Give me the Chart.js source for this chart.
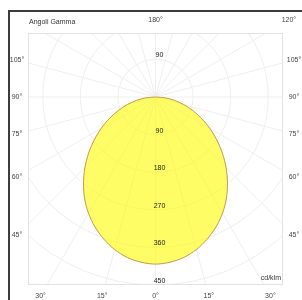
<!DOCTYPE html>
<html>
<head>
<meta charset="utf-8">
<script src="https://cdn.jsdelivr.net/npm/chart.js@4"></script>
<style>
html, body { margin: 0; padding: 0; background: #fff; }
canvas { display: block; }
</style>
</head>
<body>
<canvas id="myChart" width="302" height="300"></canvas>
<script>
// gamma angles (deg) and luminous intensity (cd/klm), symmetric curve
const gammaDeg = [0, 5, 10, 15, 20, 25, 30, 35, 40, 45, 50, 55, 60, 65, 70, 75, 80, 85, 90];
const cdKlm = [400, 397, 390, 378, 362, 343, 321, 296, 268, 239, 209, 179, 150, 122, 95, 70, 46, 23, 0];

const ringLabelsDown = [90, 180, 270, 360, 450];
const ringLabelsUp = [90];
const gridRings = [90, 180, 270, 360, 450, 540, 630];
const angleLabels = [-105, -90, -75, -60, -45, -30, -15, 0, 15, 30, 45, 60, 75, 90, 105, 120, 180];
const titleText = 'Angoli Gamma';
const unitText = 'cd/klm';

const FONT = '7px "Liberation Sans", Arial, sans-serif';
const rad = d => d * Math.PI / 180;

// build the closed curve from -90 to +90
const pts = [];
for (let i = gammaDeg.length - 1; i >= 0; i--) {
  const g = -gammaDeg[i];
  pts.push({x: cdKlm[i] * Math.sin(rad(g)), y: -cdKlm[i] * Math.cos(rad(g))});
}
for (let i = 1; i < gammaDeg.length; i++) {
  const g = gammaDeg[i];
  pts.push({x: cdKlm[i] * Math.sin(rad(g)), y: -cdKlm[i] * Math.cos(rad(g))});
}

const polarGrid = {
  id: 'polarGrid',
  beforeDraw(chart) {
    const {ctx, chartArea: a, scales: {x, y}} = chart;
    const cx = x.getPixelForValue(0), cy = y.getPixelForValue(0);
    ctx.save();
    ctx.fillStyle = '#fff';
    ctx.fillRect(0, 0, chart.width, chart.height);
    // outer frame
    ctx.fillStyle = '#3c3c3c';
    ctx.fillRect(8, 10, chart.width - 8, 2);
    ctx.fillRect(8, 10, 2, chart.height - 10);

    ctx.save();
    ctx.beginPath();
    ctx.rect(a.left, a.top, a.right - a.left, a.bottom - a.top);
    ctx.clip();
    ctx.strokeStyle = '#efefef';
    ctx.lineWidth = 1;
    gridRings.forEach(r => {
      ctx.beginPath();
      ctx.arc(cx, cy, x.getPixelForValue(r) - cx, 0, 2 * Math.PI);
      ctx.stroke();
    });
    for (let g = 0; g < 360; g += 15) {
      const R = 1000;
      ctx.beginPath();
      ctx.moveTo(cx, cy);
      ctx.lineTo(x.getPixelForValue(R * Math.sin(rad(g))), y.getPixelForValue(-R * Math.cos(rad(g))));
      ctx.stroke();
    }
    ctx.restore();

    ctx.strokeStyle = '#e2e2e2';
    ctx.strokeRect(a.left + 0.5, a.top + 0.5, a.right - a.left - 1, a.bottom - a.top - 1);
    ctx.restore();
  },
  afterDatasetsDraw(chart) {
    const {ctx, chartArea: a, scales: {x, y}} = chart;
    const cx = x.getPixelForValue(0), cy = y.getPixelForValue(0);
    ctx.save();
    ctx.font = FONT;
    ctx.textBaseline = 'middle';

    // intensity labels
    ctx.fillStyle = '#222';
    ctx.textAlign = 'center';
    ringLabelsDown.forEach(v => ctx.fillText(String(v), cx + 4, y.getPixelForValue(-v) - 4));
    ringLabelsUp.forEach(v => ctx.fillText(String(v), cx + 4, y.getPixelForValue(v) - 4));

    // angle labels around the frame
    ctx.fillStyle = '#444';
    const L = a.left - 11, Rr = a.right + 11, T = a.top - 13, B = a.bottom + 11;
    angleLabels.forEach(g => {
      const dx = Math.sin(rad(g)), dy = Math.cos(rad(g));
      let t = Infinity;
      if (dx > 1e-9) t = Math.min(t, (Rr - cx) / dx);
      if (dx < -1e-9) t = Math.min(t, (L - cx) / dx);
      if (dy > 1e-9) t = Math.min(t, (B - cy) / dy);
      if (dy < -1e-9) t = Math.min(t, (T - cy) / dy);
      ctx.fillText(Math.abs(g) + '°', cx + dx * t, cy + dy * t);
    });

    ctx.fillStyle = '#333';
    ctx.textAlign = 'left';
    ctx.fillText(titleText, a.left + 1, 22);
    ctx.textAlign = 'right';
    ctx.fillText(unitText, a.right - 2, a.bottom - 7);
    ctx.restore();
  }
};

const ctx = document.getElementById('myChart');
new Chart(ctx, {
  type: 'scatter',
  data: {
    datasets: [{
      data: pts,
      showLine: true,
      fill: 'shape',
      backgroundColor: 'rgba(255, 252, 0, 0.6)',
      borderColor: '#c49a4a',
      borderWidth: 1,
      pointRadius: 0,
      tension: 0.3
    }]
  },
  options: {
    responsive: false,
    animation: false,
    layout: { padding: { left: 28, right: 19, top: 33, bottom: 15 } },
    scales: {
      x: { type: 'linear', display: false, min: -305.2, max: 305.2 },
      y: { type: 'linear', display: false, min: -450, max: 153.2 }
    },
    plugins: {
      legend: { display: false },
      tooltip: { enabled: false }
    }
  },
  plugins: [polarGrid]
});
</script>
</body>
</html>
